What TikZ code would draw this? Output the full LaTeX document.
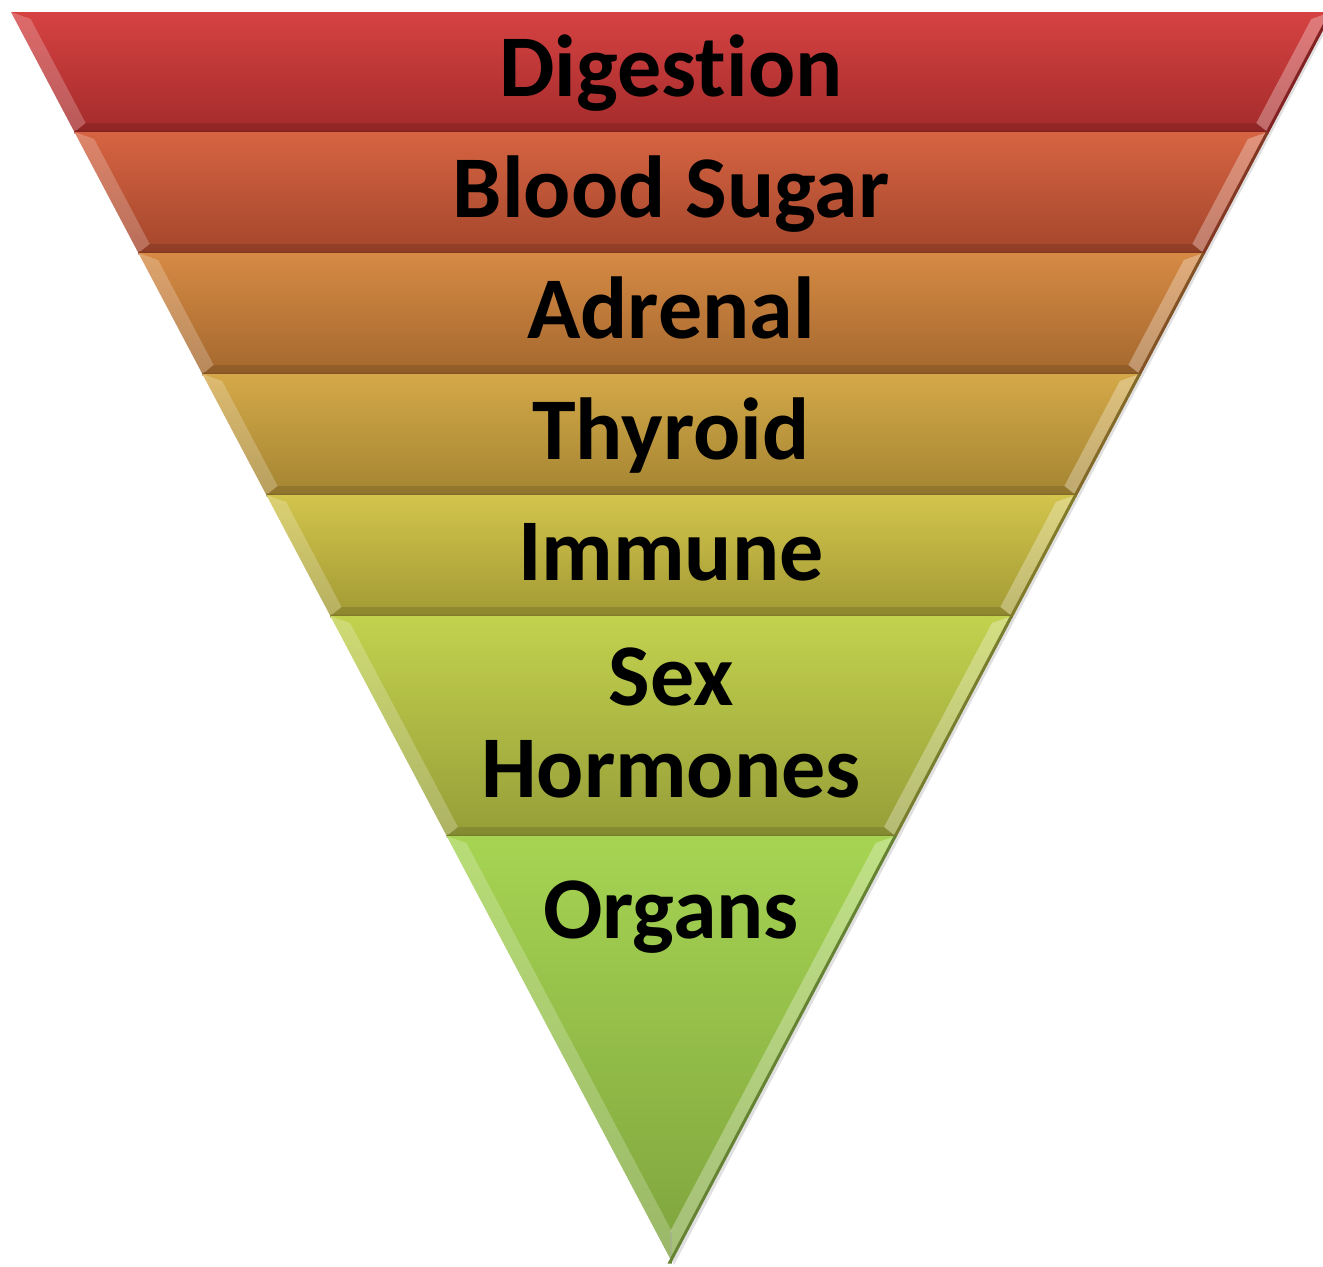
\documentclass[tikz,border=0pt]{standalone}
\usepackage{fontspec}
\setmainfont{Carlito}[Ligatures=NoCommon]
\usetikzlibrary{calc}
\definecolor{DigTop}{HTML}{D64242}
\definecolor{DigBot}{HTML}{A42B2B}
\definecolor{BsTop}{HTML}{D66442}
\definecolor{BsBot}{HTML}{A4462C}
\definecolor{AdrTop}{HTML}{D68A44}
\definecolor{AdrBot}{HTML}{A4682E}
\definecolor{ThyTop}{HTML}{D4A848}
\definecolor{ThyBot}{HTML}{A48532}
\definecolor{ImmTop}{HTML}{D2C44C}
\definecolor{ImmBot}{HTML}{A29A34}
\definecolor{SexTop}{HTML}{C2D24E}
\definecolor{SexBot}{HTML}{969E38}
\definecolor{OrgTop}{HTML}{A6D452}
\definecolor{OrgBot}{HTML}{7EA43E}

\begin{document}
\begin{tikzpicture}[x=0.5pt,y=-0.5pt,
    lbl/.style={font=\fontsize{44pt}{46pt}\selectfont\bfseries,text=black,align=center,anchor=base,inner sep=0pt},
    bevl/.style={fill=white,fill opacity=0.22},
    bevr/.style={fill=white,fill opacity=0.30},
    bevb/.style={fill=black,fill opacity=0.12}]
  \useasboundingbox (0,0) rectangle (1323,1266);
  % soft shadow
  \fill[black!12] (14,15) -- (1334,15) -- (674,1265) -- cycle;
  \foreach \ya/\yb/\ct/\cb in {12/132/DigTop/DigBot,132/253/BsTop/BsBot,253/374/AdrTop/AdrBot,
      374/495/ThyTop/ThyBot,495/616/ImmTop/ImmBot,616/836/SexTop/SexBot,836/1262/OrgTop/OrgBot}{
    \pgfmathsetmacro{\xla}{11+0.5288*(\ya-12)}
    \pgfmathsetmacro{\xra}{1331-0.5288*(\ya-12)}
    \pgfmathsetmacro{\xlb}{11+0.5288*(\yb-12)}
    \pgfmathsetmacro{\xrb}{1331-0.5288*(\yb-12)}
    \pgfmathsetmacro{\yia}{\ya+7}
    \pgfmathsetmacro{\yib}{min(\yb-9,1231.7)}
    \pgfmathsetmacro{\xila}{11+0.5288*(\yia-12)+16}
    \pgfmathsetmacro{\xira}{1331-0.5288*(\yia-12)-16}
    \pgfmathsetmacro{\xilb}{11+0.5288*(\yib-12)+16}
    \pgfmathsetmacro{\xirb}{1331-0.5288*(\yib-12)-16}
    \shade[top color=\ct,bottom color=\cb] (\xla,\ya) -- (\xra,\ya) -- (\xrb,\yb) -- (\xlb,\yb) -- cycle;
    \fill[bevl] (\xla,\ya) -- (\xila,\yia) -- (\xilb,\yib) -- (\xlb,\yb) -- cycle;
    \fill[bevr] (\xra,\ya) -- (\xira,\yia) -- (\xirb,\yib) -- (\xrb,\yb) -- cycle;
    \fill[bevb] (\xlb,\yb) -- (\xilb,\yib) -- (\xirb,\yib) -- (\xrb,\yb) -- cycle;
    \draw[\cb!80!black,line width=1.5] (\xra,\ya) -- (\xrb,\yb) -- (\xlb,\yb);
  }
  \node[lbl] (dig) at (671,96) {Digestion};
  \node[lbl] (bsug) at (671,217) {Blood Sugar};
  \node[lbl] (adr) at (671,338) {Adrenal};
  \node[lbl] (thy) at (671,459) {Thyroid};
  \node[lbl] (imm) at (671,580) {Immune};
  \node[lbl] (sex) at (671,797) {Sex\\[0pt]Hormones};
  \node[lbl] (org) at (671,938) {Organs};
\end{tikzpicture}
\end{document}
